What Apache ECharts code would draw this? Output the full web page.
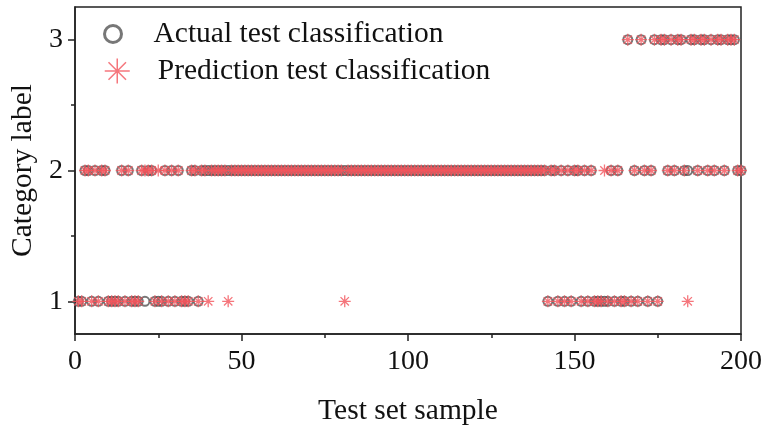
<!DOCTYPE html>
<html>
<head>
<meta charset="utf-8">
<script src="https://cdn.jsdelivr.net/npm/echarts@6/dist/echarts.min.js"></script>
<style>html,body{margin:0;padding:0;background:#fff}#c{width:761px;height:428px}</style>
</head>
<body>
<div id="c"></div>
<script>
// Actual class of test samples 1..200
const actualClass = [
  1,1,2,2,1,2,1,2,2,1, 1,1,1,2,1,2,1,1,1,2,
  1,2,2,1,1,1,2,1,2,1, 2,1,1,1,2,2,1,2,2,2,
  2,2,2,2,2,2,2,2,2,2, 2,2,2,2,2,2,2,2,2,2,
  2,2,2,2,2,2,2,2,2,2, 2,2,2,2,2,2,2,2,2,2,
  2,2,2,2,2,2,2,2,2,2, 2,2,2,2,2,2,2,2,2,2,
  2,2,2,2,2,2,2,2,2,2, 2,2,2,2,2,2,2,2,2,2,
  2,2,2,2,2,2,2,2,2,2, 2,2,2,2,2,2,2,2,2,2,
  2,1,2,2,1,2,1,2,1,2, 2,1,2,1,2,1,1,1,1,1,
  2,1,2,1,1,3,1,2,1,3, 2,1,2,3,1,3,3,2,3,2,
  3,3,2,2,3,3,2,3,3,2, 3,2,3,3,2,3,3,3,2,2
];
// Predicted class of test samples 1..200
const predictedClass = [
  1,1,2,2,1,2,1,2,2,1, 1,1,1,2,1,2,1,1,1,2,
  2,2,2,1,2,1,2,1,2,1, 2,1,1,1,2,2,1,2,2,1,
  2,2,2,2,2,1,2,2,2,2, 2,2,2,2,2,2,2,2,2,2,
  2,2,2,2,2,2,2,2,2,2, 2,2,2,2,2,2,2,2,2,2,
  1,2,2,2,2,2,2,2,2,2, 2,2,2,2,2,2,2,2,2,2,
  2,2,2,2,2,2,2,2,2,2, 2,2,2,2,2,2,2,2,2,2,
  2,2,2,2,2,2,2,2,2,2, 2,2,2,2,2,2,2,2,2,2,
  2,1,2,2,1,2,1,2,1,2, 2,1,2,1,2,1,1,1,2,1,
  2,1,2,1,1,3,1,2,1,3, 2,1,2,3,1,3,3,2,3,2,
  3,3,2,1,3,3,2,3,3,2, 3,2,3,3,2,3,3,3,2,2
];
const yTicks = [1, 2, 3];
const yMinorTicks = [1.5, 2.5];
const seriesNames = ['Actual test classification', 'Prediction test classification'];

const actualData = actualClass.map((v, i) => [i + 1, v]);
const predData = predictedClass.map((v, i) => [i + 1, v]);

const FONT = 'Liberation Serif';
const asterisk = 'path://M0,10 L20,10 M10,0 L10,20 M3,3 L17,17 M17,3 L3,17';

const chart = echarts.init(document.getElementById('c'), null, {renderer: 'canvas'});
chart.setOption({
  animation: false,
  backgroundColor: '#fff',
  grid: {left: 75, right: 20, top: 7, bottom: 94, show: true, borderColor: '#222', borderWidth: 1.5,
         backgroundColor: 'transparent', containLabel: false, outerBoundsMode: 'none'},
  legend: [
    {data: [seriesNames[0]], left: 98, top: 14, itemWidth: 17, itemHeight: 17, orient: 'vertical',
     itemStyle: {borderWidth: 3, borderColor: '#555', color: 'rgba(0,0,0,0)'},
     textStyle: {fontFamily: FONT, fontSize: 29.5, color: '#111', padding: [0, 0, 0, 27]}},
    {data: [seriesNames[1]], left: 99, top: 51, itemWidth: 25, itemHeight: 25, orient: 'vertical',
     itemStyle: {borderWidth: 1.5, borderColor: '#f2545b', color: 'rgba(0,0,0,0)'},
     textStyle: {fontFamily: FONT, fontSize: 29.5, color: '#111', padding: [0, 0, 0, 23]}}
  ],
  xAxis: {
    type: 'value', min: 0, max: 200, interval: 50,
    name: 'Test set sample', nameLocation: 'middle', nameGap: 62,
    nameTextStyle: {fontFamily: FONT, fontSize: 29.5, color: '#111'},
    axisLine: {show: true, lineStyle: {color: '#222', width: 1.5}},
    axisTick: {show: true, length: 7, inside: false, lineStyle: {color: '#222', width: 1.5}},
    minorTick: {show: true, splitNumber: 2, length: 4, lineStyle: {color: '#222', width: 1.5}},
    axisLabel: {fontFamily: FONT, fontSize: 28, color: '#111', margin: 14},
    splitLine: {show: false}
  },
  yAxis: [{
    type: 'value', min: 0.75, max: 3.25,
    name: 'Category label', nameLocation: 'middle', nameGap: 28,
    nameTextStyle: {fontFamily: FONT, fontSize: 29.5, color: '#111'},
    axisLine: {show: true, lineStyle: {color: '#222', width: 1.5}},
    axisTick: {show: true, length: 7, customValues: yTicks, lineStyle: {color: '#222', width: 1.5}},
    axisLabel: {fontFamily: FONT, fontSize: 28, color: '#111', margin: 12, customValues: yTicks},
    splitLine: {show: false}
  }, {
    type: 'value', min: 0.75, max: 3.25, position: 'left',
    axisLine: {show: false},
    axisTick: {show: true, length: 4, customValues: yMinorTicks, lineStyle: {color: '#222', width: 1.5}},
    axisLabel: {show: false},
    splitLine: {show: false}
  }],
  series: [
    {name: seriesNames[0], type: 'scatter', data: actualData, symbol: 'circle', symbolSize: 9,
     itemStyle: {color: 'rgba(255,255,255,0)', borderColor: '#555', borderWidth: 2}, z: 2},
    {name: seriesNames[1], type: 'scatter', data: predData, symbol: asterisk, symbolSize: 12,
     itemStyle: {color: 'rgba(0,0,0,0)', borderColor: '#f2545b', borderWidth: 1.3}, z: 3}
  ]
});
</script>
</body>
</html>
